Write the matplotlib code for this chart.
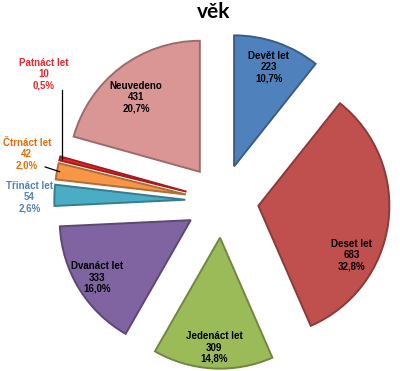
import numpy as np
import matplotlib
matplotlib.use("Agg")
import matplotlib.pyplot as plt
import matplotlib.colors as mc

categories = ["Devět let", "Deset let", "Jedenáct let", "Dvanáct let",
              "Třináct let", "Čtrnáct let", "Patnáct let", "Neuvedeno"]
values = [223, 683, 309, 333, 54, 42, 10, 431]
percent_labels = ["10,7%", "32,8%", "14,8%", "16,0%", "2,6%", "2,0%", "0,5%", "20,7%"]

colors = ["#4F81BD", "#C0504D", "#9BBB59", "#8064A2",
          "#4BACC6", "#F79646", "#E8262B", "#D99694"]
label_colors = ["black", "black", "black", "black",
                "#4F81BD", "#E46C0A", "#E8262B", "black"]

W, H = 400, 371
fig = plt.figure(figsize=(W / 100, H / 100), dpi=100)
ax = fig.add_axes([0, 0, 1, 1])
cx, cy, R = 222, 201, 131

explode = 0.28
def darker(c, f=0.72):
    r, g, b = mc.to_rgb(c)
    return (r * f, g * f, b * f)

wedges, _ = ax.pie(values, startangle=90, counterclock=False, colors=colors,
                   explode=[explode] * len(values), radius=1,
                   wedgeprops=dict(linewidth=1.4))
for w, c in zip(wedges, colors):
    w.set_edgecolor(darker(c))

ax.set_aspect("auto")
ax.set_xlim(-cx / R, (W - cx) / R)
ax.set_ylim((cy - H) / R, cy / R)
ax.axis("off")

# label positions: (radius from center, angle override in degrees or None)
label_layout = [
    (1.08, None), (1.07, -22.6), (1.12, None), (1.12, None),
    None, None, None, (1.03, 129.6),
]
outside_pos = {4: (-1.47, 0.03), 5: (-1.49, 0.36), 6: (-1.36, 0.97)}

for i, w in enumerate(wedges):
    mid = np.deg2rad((w.theta1 + w.theta2) / 2)
    txt = f"{categories[i]}\n{values[i]}\n{percent_labels[i]}"
    if i in outside_pos:
        x, y = outside_pos[i]
    else:
        r, ang = label_layout[i]
        a = mid if ang is None else np.deg2rad(ang)
        x, y = r * np.cos(a), r * np.sin(a)
    ax.text(x, y, txt, ha="center", va="center", fontsize=7, fontweight="bold",
            color=label_colors[i], family="Liberation Sans", linespacing=1.15)

# leader lines for small slices
def outer_point(w, rr=1.0):
    mid = np.deg2rad((w.theta1 + w.theta2) / 2)
    return (explode + rr) * np.cos(mid), (explode + rr) * np.sin(mid)

px, py = outer_point(wedges[6], 0.98)
ax.plot([px, px], [py, 0.85], color="black", lw=0.9)
px, py = outer_point(wedges[5], 0.98)
ax.plot([-1.35, px], [0.26, py], color="black", lw=0.9)

fig.text(214 / W, 1 - 12 / H, "věk", ha="center", va="center", fontsize=15,
         fontweight="bold", family="Lato")

fig.savefig("out.png", dpi=100)
